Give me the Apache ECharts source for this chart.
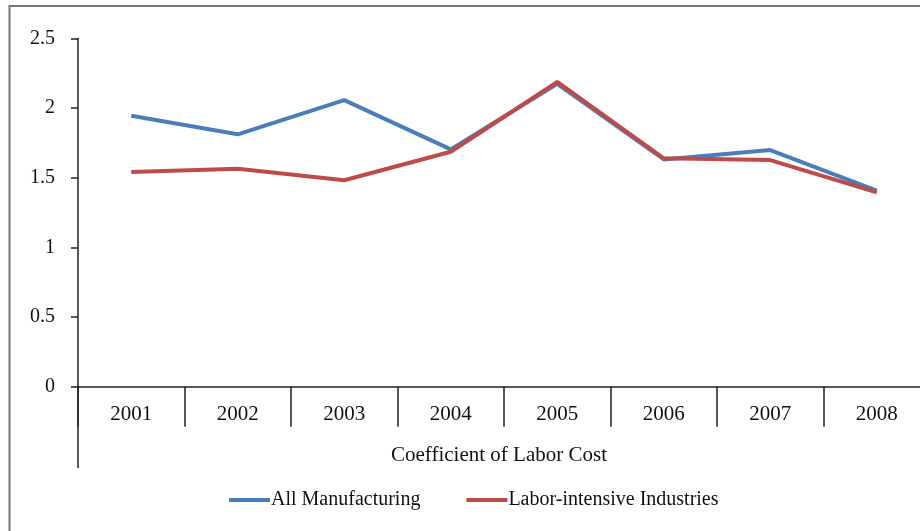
<!DOCTYPE html>
<html>
<head>
<meta charset="utf-8">
<script src="https://cdn.jsdelivr.net/npm/echarts@6/dist/echarts.min.js"></script>
<style>
  html, body { margin: 0; padding: 0; background: #fff; }
  #chart { width: 920px; height: 531px; }
</style>
</head>
<body>
<div id="chart"></div>
<script>
// Years on the category axis
const years = ['2001', '2002', '2003', '2004', '2005', '2006', '2007', '2008'];
// Coefficient of labor cost per year
const allManufacturing = [1.945, 1.812, 2.058, 1.704, 2.175, 1.632, 1.699, 1.407];
const laborIntensive = [1.541, 1.565, 1.482, 1.687, 2.188, 1.640, 1.627, 1.395];
// Value axis ticks
const yTicks = [0, 0.5, 1, 1.5, 2, 2.5];
const axisTitle = 'Coefficient of Labor Cost';
const seriesNames = ['All Manufacturing', 'Labor-intensive Industries'];

const FONT = '"Liberation Serif", "DejaVu Serif", serif';
const BLUE = '#4A7EBB';
const RED = '#BE4B48';

const chart = echarts.init(document.getElementById('chart'), null, { renderer: 'canvas' });

chart.setOption({
  animation: false,
  backgroundColor: '#fff',
  grid: {
    left: 78, top: 38.5, width: 852, height: 348.2,
    containLabel: false,
    outerBoundsMode: 'none'
  },
  legend: {
    data: seriesNames.map((n, i) => ({ name: n, icon: 'rect', itemStyle: { color: i ? RED : BLUE } })),
    left: 224,
    top: 485,
    itemWidth: 41,
    itemHeight: 4,
    itemGap: 46,
    textStyle: { fontFamily: FONT, fontSize: 20, color: '#111', padding: [0, 0, 0, -4] }
  },
  xAxis: {
    type: 'category',
    data: years,
    boundaryGap: true,
    axisLine: { show: true, lineStyle: { color: '#222', width: 1.5 } },
    axisTick: { show: true, length: 40, inside: false, alignWithLabel: false, lineStyle: { color: '#222', width: 1.5 } },
    axisLabel: { fontFamily: FONT, fontSize: 21, color: '#111', margin: 17 },
    splitLine: { show: false }
  },
  yAxis: {
    type: 'value',
    min: yTicks[0],
    max: yTicks[yTicks.length - 1],
    interval: 0.5,
    axisLine: { show: true, lineStyle: { color: '#222', width: 1.5 } },
    axisTick: { show: true, length: 7, lineStyle: { color: '#222', width: 1.5 } },
    axisLabel: { fontFamily: FONT, fontSize: 20, color: '#111', margin: 23 },
    splitLine: { show: false }
  },
  series: [
    {
      name: seriesNames[0],
      type: 'line',
      data: allManufacturing,
      symbol: 'none',
      lineStyle: { color: BLUE, width: 4 },
      itemStyle: { color: BLUE },
      z: 2
    },
    {
      name: seriesNames[1],
      type: 'line',
      data: laborIntensive,
      symbol: 'none',
      lineStyle: { color: RED, width: 4 },
      itemStyle: { color: RED },
      z: 3
    }
  ],
  graphic: [
    // outer chart frame
    {
      type: 'rect',
      shape: { x: 9.5, y: 6, width: 1000, height: 1000 },
      style: { fill: null, stroke: '#777', lineWidth: 2 },
      silent: true
    },
    // value axis extends below the category band
    {
      type: 'line',
      shape: { x1: 78, y1: 386.7, x2: 78, y2: 468 },
      style: { stroke: '#222', lineWidth: 1.5 },
      silent: true
    },
    {
      type: 'text',
      x: 499,
      y: 455,
      style: {
        text: axisTitle,
        font: '21px ' + FONT,
        fill: '#111',
        textAlign: 'center',
        textVerticalAlign: 'middle'
      }
    }
  ]
});
</script>
</body>
</html>
